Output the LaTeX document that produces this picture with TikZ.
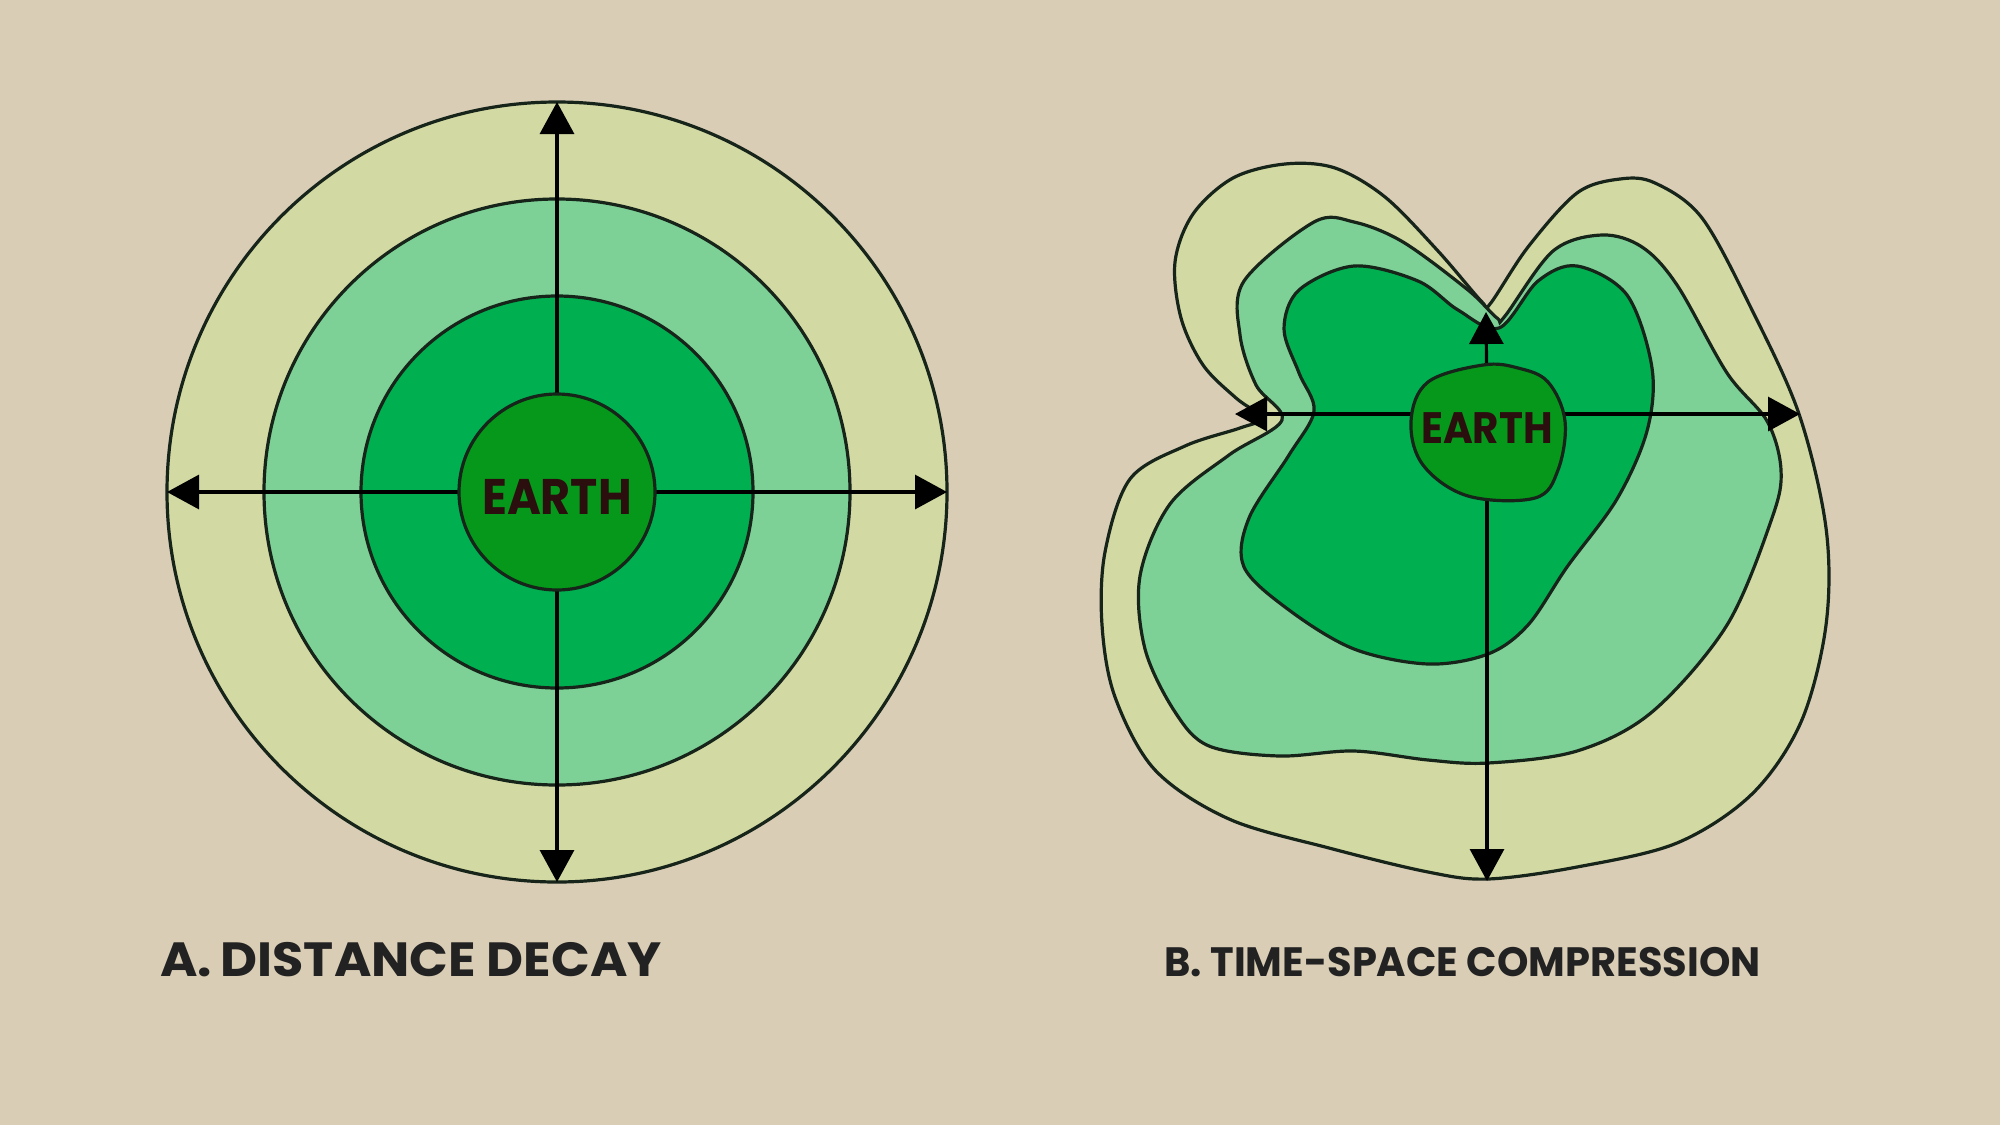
\documentclass[tikz,border=0pt]{standalone}
\usepackage{fontspec}
\usepackage{graphicx}
\setmainfont{Poppins}
\usetikzlibrary{arrows.meta}
\definecolor{bgC}{HTML}{D9CDB5}
\definecolor{ringY}{HTML}{D3D9A3}
\definecolor{ringL}{HTML}{7DD196}
\definecolor{ringM}{HTML}{00B050}
\definecolor{earthC}{HTML}{05981A}
\definecolor{lineC}{HTML}{16241A}
\definecolor{textC}{HTML}{2B0F0F}
\definecolor{labelC}{HTML}{222222}
\begin{document}
\begin{tikzpicture}[x=0.5pt,y=-0.5pt,
  outline/.style={draw=lineC, line width=1.6pt},
  arr/.style={draw=black, line width=1.6pt, -{Triangle[length=16pt,width=17pt]}},
  earthtext/.style={text=textC, font=\bfseries\fontsize{25}{25}\selectfont},
  caption/.style={text=labelC, anchor=west, inner sep=0pt}]
\fill[bgC] (0,0) rectangle (2000,1125);
\useasboundingbox (0,0) rectangle (2000,1125);

% ---------- A. distance decay ----------
\path[outline, fill=ringY] (557,492) circle[radius=390];
\path[outline, fill=ringL] (557,492) circle[radius=293];
\path[outline, fill=ringM] (557,492) circle[radius=196];
\coordinate (cA) at (557,492);
\coordinate (nA) at (557,102);
\coordinate (sA) at (557,882);
\coordinate (wA) at (167,492);
\coordinate (eA) at (947,492);
\draw[arr] (cA) -- (nA);
\draw[arr] (cA) -- (sA);
\draw[arr] (cA) -- (wA);
\draw[arr] (cA) -- (eA);
\node[circle, outline, fill=earthC, minimum size=98pt, inner sep=0pt] (earthA) at (557,492) {};
\node[earthtext] (txtA) at (557,497) {\scalebox{0.92}[1]{EARTH}};

% ---------- B. time-space compression ----------
\path[outline, fill=ringY] plot[smooth cycle, tension=0.55] coordinates {
 (1335,168) (1385,197) (1438,251) (1482,302) (1490,304) (1528,247) (1577,193)
 (1620,179) (1655,183) (1702,218) (1752,310) (1799,414) (1826,528) (1826,625)
 (1801,722) (1752,794) (1677,843) (1577,867) (1488,879) (1428,872) (1329,848)
 (1229,819) (1155,770) (1115,697) (1102,625) (1105,552) (1130,479) (1185,446)
 (1240,428) (1262,418) (1236,398) (1203,365) (1181,318) (1175,262) (1193,214)
 (1233,178) (1285,164)};
\path[outline, fill=ringL] plot[smooth cycle, tension=0.55] coordinates {
 (1314,222) (1354,222) (1403,242) (1468,290) (1497,318) (1505,316) (1553,251)
 (1602,235) (1642,247) (1677,285) (1727,373) (1767,421) (1781,470) (1772,518)
 (1727,625) (1652,712) (1577,751) (1488,763) (1428,760) (1354,751) (1279,756)
 (1209,746) (1175,712) (1145,649) (1140,576) (1170,504) (1229,455) (1282,420)
 (1256,385) (1240,335) (1244,281)};
\path[outline, fill=ringM] plot[smooth cycle, tension=0.55] coordinates {
 (1354,266) (1418,281) (1458,310) (1499,328) (1538,281) (1577,266) (1627,295)
 (1652,368) (1647,431) (1617,499) (1567,567) (1528,625) (1488,654) (1428,664)
 (1354,649) (1289,610) (1244,567) (1249,518) (1289,455) (1314,411) (1299,373)
 (1284,329) (1299,290)};
\coordinate (cB) at (1487,414);
\coordinate (nB) at (1486,312);
\coordinate (sB) at (1487,881);
\coordinate (wB) at (1235,414);
\coordinate (eB) at (1800,414);
\draw[arr] (cB) -- (nB);
\draw[arr] (cB) -- (sB);
\draw[arr] (cB) -- (wB);
\draw[arr] (cB) -- (eB);
\path[outline, fill=earthC] plot[smooth cycle, tension=0.6] coordinates {
 (1483,365) (1518,368) (1548,382) (1565,421) (1558,470) (1535,498) (1468,496)
 (1423,465) (1411,421) (1428,382)};
\node[earthtext, font=\bfseries\fontsize{22}{22}\selectfont] (txtB) at (1487,428) {\scalebox{0.92}[1]{EARTH}};

% ---------- captions ----------
\node[caption, font=\bfseries\fontsize{24}{24}\selectfont] (capA) at (160,960) {\scalebox{1.06}[1]{A.\,DISTANCE DECAY}};
\node[caption, font=\bfseries\fontsize{20.5}{20.5}\selectfont] (capB) at (1164,962) {\scalebox{0.975}[1]{B. TIME-SPACE COMPRESSION}};
\end{tikzpicture}
\end{document}
